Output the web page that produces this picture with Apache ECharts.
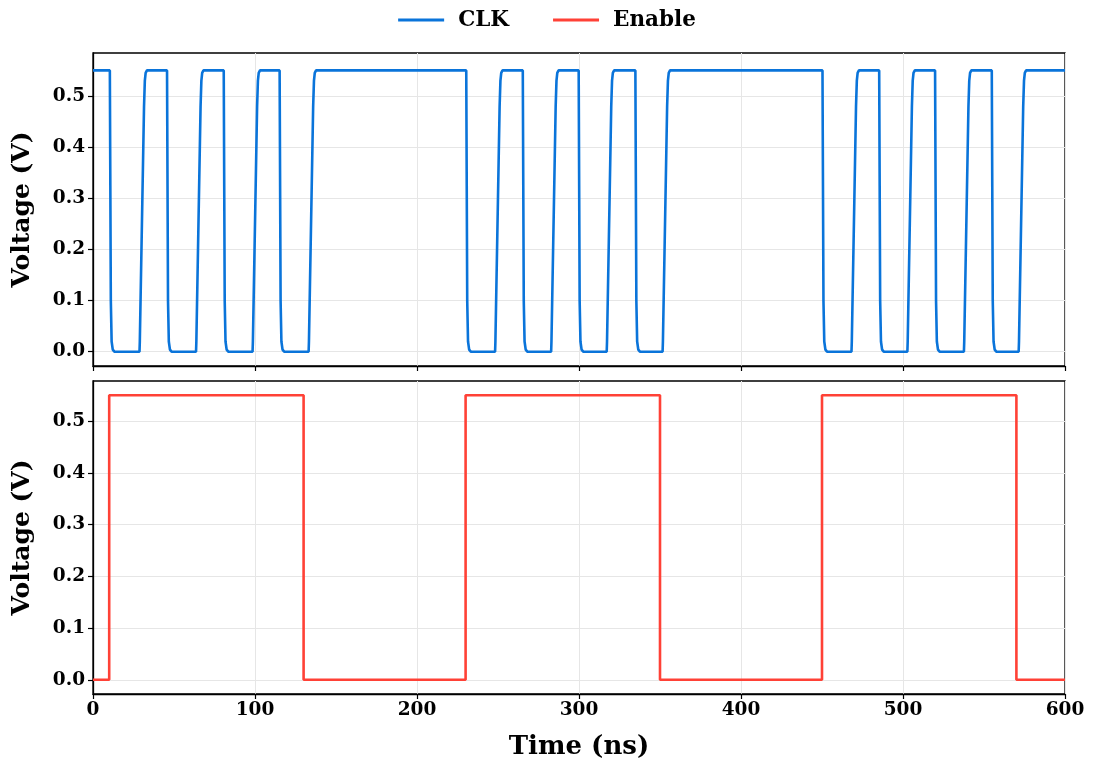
<!DOCTYPE html>
<html>
<head>
<meta charset="utf-8">
<script src="https://cdn.jsdelivr.net/npm/echarts@6/dist/echarts.min.js"></script>
<style>html,body{margin:0;padding:0;background:#fff}#c{width:1094px;height:761px}</style>
</head>
<body>
<div id="c"></div>
<script>
// ---- data (time in ns, voltage in V) ----
const clkTimes = [0,
  10.4,11.0,11.5,12.2,13.2,  28.7,28.9,31.5,32.0,32.5,33.3,
  45.7,46.3,46.8,47.5,48.5,  63.6,63.8,66.4,66.9,67.4,68.2,
  80.7,81.3,81.8,82.5,83.5,  98.5,98.7,101.3,101.8,102.3,103.1,
  115.2,115.8,116.3,117.0,118.0, 133.1,133.3,135.9,136.4,136.9,137.7,
  230.4,231.0,231.5,232.2,233.2, 248.2,248.4,251.0,251.5,252.0,252.8,
  265.3,265.9,266.4,267.1,268.1, 282.8,283.0,285.6,286.1,286.6,287.4,
  299.8,300.4,300.9,301.6,302.6, 317.1,317.3,319.9,320.4,320.9,321.7,
  334.8,335.4,335.9,336.6,337.6, 351.6,351.8,354.4,354.9,355.4,356.2,
  450.3,450.9,451.4,452.1,453.1, 468.2,468.4,471.0,471.5,472.0,472.8,
  485.3,485.9,486.4,487.1,488.1, 502.7,502.9,505.5,506.0,506.5,507.3,
  519.8,520.4,520.9,521.6,522.6, 537.6,537.8,540.4,540.9,541.4,542.2,
  554.8,555.4,555.9,556.6,557.6, 571.4,571.6,574.2,574.7,575.2,576.0,
  600];
const clkVolts = [0.55,
  0.55,0.10,0.02,0.004,0,  0,0.02,0.48,0.53,0.545,0.55,
  0.55,0.10,0.02,0.004,0,  0,0.02,0.48,0.53,0.545,0.55,
  0.55,0.10,0.02,0.004,0,  0,0.02,0.48,0.53,0.545,0.55,
  0.55,0.10,0.02,0.004,0,  0,0.02,0.48,0.53,0.545,0.55,
  0.55,0.10,0.02,0.004,0,  0,0.02,0.48,0.53,0.545,0.55,
  0.55,0.10,0.02,0.004,0,  0,0.02,0.48,0.53,0.545,0.55,
  0.55,0.10,0.02,0.004,0,  0,0.02,0.48,0.53,0.545,0.55,
  0.55,0.10,0.02,0.004,0,  0,0.02,0.48,0.53,0.545,0.55,
  0.55,0.10,0.02,0.004,0,  0,0.02,0.48,0.53,0.545,0.55,
  0.55,0.10,0.02,0.004,0,  0,0.02,0.48,0.53,0.545,0.55,
  0.55,0.10,0.02,0.004,0,  0,0.02,0.48,0.53,0.545,0.55,
  0.55,0.10,0.02,0.004,0,  0,0.02,0.48,0.53,0.545,0.55,
  0.55];
const enableTimes = [0, 10, 10, 130, 130, 230, 230, 350, 350, 450, 450, 570, 570, 600];
const enableVolts = [0, 0, 0.55, 0.55, 0, 0, 0.55, 0.55, 0, 0, 0.55, 0.55, 0, 0];
const xTicks = [0, 100, 200, 300, 400, 500, 600];
const yTicks = [0.0, 0.1, 0.2, 0.3, 0.4, 0.5];
const seriesNames = ['CLK', 'Enable'];

const FONT = 'DejaVu Serif';
const CLK_COLOR = '#0a74da';
const EN_COLOR = '#ff4136';
const clkData = clkTimes.map((t, i) => [t, clkVolts[i]]);
const enData = enableTimes.map((t, i) => [t, enableVolts[i]]);

function xAxis(gridIndex, showLabels) {
  return {
    type: 'value', gridIndex, min: 0, max: 600, interval: 100,
    name: showLabels ? 'Time (ns)' : '', nameLocation: 'middle', nameGap: 40,
    nameTextStyle: { fontFamily: FONT, fontWeight: 'bold', fontSize: 26, color: '#000' },
    axisLine: { show: true, onZero: false, lineStyle: { color: '#000', width: 1.3 } },
    axisTick: { show: true, length: 5, customValues: xTicks, lineStyle: { color: '#000', width: 1.2 } },
    axisLabel: { show: showLabels, customValues: xTicks, fontFamily: FONT, fontWeight: 'bold', fontSize: 18.5, color: '#000', margin: 7 },
    splitLine: { show: true, lineStyle: { color: '#e6e6e6', width: 1 } }
  };
}
function yAxis(gridIndex, min, max) {
  return {
    type: 'value', gridIndex, min, max,
    name: 'Voltage (V)', nameLocation: 'middle', nameGap: 58,
    nameTextStyle: { fontFamily: FONT, fontWeight: 'bold', fontSize: 25, color: '#000' },
    axisLine: { show: true, onZero: false, lineStyle: { color: '#000', width: 1.3 } },
    axisTick: { show: true, length: 5, customValues: yTicks, lineStyle: { color: '#000', width: 1.2 } },
    axisLabel: { customValues: yTicks, fontFamily: FONT, fontWeight: 'bold', fontSize: 18.5, color: '#000', margin: 8,
      formatter: v => v.toFixed(1) },
    splitLine: { show: true, lineStyle: { color: '#e6e6e6', width: 1 } }
  };
}

const chart = echarts.init(document.getElementById('c'), null, { renderer: 'canvas' });
chart.setOption({
  animation: false,
  backgroundColor: '#fff',
  legend: {
    data: [
      { name: seriesNames[0], icon: 'rect', itemStyle: { color: CLK_COLOR } },
      { name: seriesNames[1], icon: 'rect', itemStyle: { color: EN_COLOR } }
    ],
    top: 4, left: 'center', itemWidth: 46, itemHeight: 3, itemGap: 44,
    textStyle: { fontFamily: FONT, fontWeight: 'bold', fontSize: 21.5, color: '#000', padding: [0, 0, 0, 9] }
  },
  grid: [
    { left: 93, top: 53, width: 972, height: 313, show: true, borderColor: '#000', borderWidth: 1.3, backgroundColor: 'transparent' },
    { left: 93, top: 381, width: 972, height: 313, show: true, borderColor: '#000', borderWidth: 1.3, backgroundColor: 'transparent' }
  ],
  xAxis: [xAxis(0, false), xAxis(1, true)],
  yAxis: [yAxis(0, -0.028, 0.584), yAxis(1, -0.0275, 0.5775)],
  series: [
    { name: seriesNames[0], type: 'line', xAxisIndex: 0, yAxisIndex: 0, data: clkData, symbol: 'none', showSymbol: false,
      lineStyle: { color: CLK_COLOR, width: 2.6 }, itemStyle: { color: CLK_COLOR } },
    { name: seriesNames[1], type: 'line', xAxisIndex: 1, yAxisIndex: 1, data: enData, symbol: 'none', showSymbol: false,
      lineStyle: { color: EN_COLOR, width: 2.6 }, itemStyle: { color: EN_COLOR } }
  ]
});
</script>
</body>
</html>
